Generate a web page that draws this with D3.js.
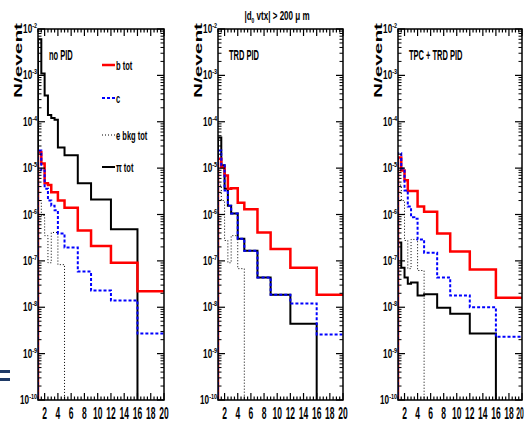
<!DOCTYPE html>
<html>
<head>
<meta charset="utf-8">
<script src="https://cdn.jsdelivr.net/npm/d3@7"></script>
<style>
  body { margin: 0; background: #fff; }
  svg { display: block; }
  text { font-family: "Liberation Sans", Arial, sans-serif; font-weight: bold; fill: #000; }
</style>
</head>
<body>
<div id="chart"></div>
<script>
// bin edges (pt) shared by all histograms
const binEdges = [1, 1.5, 2, 2.5, 3, 3.5, 4, 5, 7, 9, 12, 16, 20];
const xTickLabels = [2, 4, 6, 8, 10, 12, 14, 16, 18, 20];
const decades = [-2, -3, -4, -5, -6, -7, -8, -9, -10];

// no PID
const bTotNoPid  = [2.2e-5, 1.26e-5, 4.7e-6, 4.3e-6, 3.0e-6, 3.0e-6, 2.0e-6, 1.4e-6, 4.5e-7, 2.1e-7, 9.1e-8, 2.2e-8];
const cNoPid     = [2.4e-5, 8.9e-6, 3.6e-6, 2.0e-6, 1.55e-6, 1.23e-6, 3.9e-7, 1.95e-7, 5.9e-8, 2.3e-8, 1.4e-8, 2.7e-9];
const eBkgNoPid  = [2.0e-6, 9.5e-7, 3.5e-7, 9.1e-8, 4.1e-7, 4.1e-7, 8.3e-8, 0, 0, 0, 0, 0];
const piNoPid    = [6.0e-3, 1.1e-3, 3.7e-4, 1.4e-4, 1.2e-4, 1.1e-4, 2.8e-5, 1.9e-5, 4.7e-6, 2.1e-6, 4.8e-7, 0];

// TRD PID
const bTotTrd  = [1.6e-5, 1.05e-5, 6.9e-6, 3.6e-6, 3.7e-6, 3.7e-6, 1.8e-6, 1.3e-6, 4.1e-7, 1.8e-7, 7.1e-8, 1.86e-8];
const cTrd     = [2.4e-5, 1.15e-5, 3.3e-6, 1.55e-6, 1.05e-6, 1.05e-6, 3.0e-7, 1.66e-7, 4.4e-8, 1.86e-8, 1.2e-8, 2.6e-9];
const eBkgTrd  = [4.3e-6, 2.0e-6, 2.75e-7, 9.1e-8, 3.5e-7, 3.5e-7, 6.8e-8, 0, 0, 0, 0, 0];
const piTrd    = [4.6e-5, 1.15e-5, 3.6e-6, 1.55e-6, 1.05e-6, 1.05e-6, 3.0e-7, 1.66e-7, 4.4e-8, 1.86e-8, 4.4e-9, 0];

// TPC + TRD PID
const bTotTpcTrd = [1.7e-5, 8.9e-6, 5.5e-6, 3.2e-6, 3.2e-6, 3.2e-6, 1.48e-6, 1.15e-6, 3.9e-7, 1.6e-7, 6.5e-8, 1.6e-8];
const cTpcTrd    = [2.1e-5, 9.8e-6, 3.3e-6, 1.48e-6, 8.7e-7, 8.1e-7, 2.9e-7, 1.5e-7, 4.4e-8, 1.8e-8, 1.0e-8, 2.3e-9];
const eBkgTpcTrd = [4.3e-6, 2.0e-6, 2.75e-7, 6.8e-8, 2.9e-7, 2.9e-7, 6.2e-8, 0, 0, 0, 0, 0];
const piTpcTrd   = [2.5e-7, 7.1e-8, 4.4e-8, 3.2e-8, 3.4e-8, 3.4e-8, 1.8e-8, 1.9e-8, 9.8e-9, 7.2e-9, 2.7e-9, 0];

const panels = [
  { left: 38,  right: 164, label: "no PID",        b: bTotNoPid,  c: cNoPid,  e: eBkgNoPid,  pi: piNoPid },
  { left: 218, right: 343, label: "TRD PID",       b: bTotTrd,    c: cTrd,    e: eBkgTrd,    pi: piTrd },
  { left: 398, right: 522, label: "TPC + TRD PID", b: bTotTpcTrd, c: cTpcTrd, e: eBkgTpcTrd, pi: piTpcTrd }
];

const styles = {
  e:  { stroke: "#000", width: 1,   dash: "1,2" },
  pi: { stroke: "#000", width: 2,   dash: null },
  b:  { stroke: "#ff0000", width: 2.5, dash: null },
  c:  { stroke: "#0000ff", width: 2,   dash: "3,2" }
};

const width = 524, height = 430;
const plotTop = 29, plotBottom = 400;

const svg = d3.select("#chart").append("svg")
  .attr("width", width)
  .attr("height", height);

// squeezed bold text, the plot uses a very condensed font
function label(sel, x, y, size, sx, anchor) {
  return sel.append("text")
    .attr("transform", `translate(${x},${y}) scale(${sx},1)`)
    .attr("text-anchor", anchor || "start")
    .style("font-size", size + "px");
}

const y = d3.scaleLog().domain([1e-10, 1e-2]).range([plotBottom, plotTop]);

// minor y tick values 2..9 x 10^n
const yMinor = [];
for (let p = -10; p < -2; p++) for (let m = 2; m <= 9; m++) yMinor.push(m * Math.pow(10, p));
const xMinor = d3.range(1, 20.01, 0.5);

panels.forEach((p, i) => {
  const x = d3.scaleLinear().domain([1, 20]).range([p.left, p.right]);
  const g = svg.append("g");

  g.append("clipPath").attr("id", "clip" + i)
    .append("rect")
    .attr("x", p.left).attr("y", plotTop)
    .attr("width", p.right - p.left).attr("height", plotBottom - plotTop);

  const line = d3.line()
    .x(d => x(d[0]))
    .y(d => d[1] > 0 ? y(d[1]) : plotBottom + 5)
    .curve(d3.curveStepAfter);

  ["e", "pi", "b", "c"].forEach(key => {
    const vals = p[key];
    const pts = [[binEdges[0], 0]];
    vals.forEach((v, j) => pts.push([binEdges[j], v]));
    pts.push([binEdges[binEdges.length - 1], vals[vals.length - 1]]);
    const s = styles[key];
    g.append("path")
      .attr("clip-path", `url(#clip${i})`)
      .attr("d", line(pts))
      .attr("fill", "none")
      .attr("stroke", s.stroke)
      .attr("stroke-width", s.width)
      .attr("stroke-dasharray", s.dash);
  });

  // frame
  g.append("rect")
    .attr("x", p.left).attr("y", plotTop)
    .attr("width", p.right - p.left).attr("height", plotBottom - plotTop)
    .attr("fill", "none").attr("stroke", "#000").attr("stroke-width", 1.5);

  // x ticks, bottom and top, pointing inward
  xMinor.forEach(v => {
    const major = Math.abs(v % 2) < 1e-9;
    const len = major ? 7 : 3.5;
    g.append("line").attr("x1", x(v)).attr("x2", x(v)).attr("y1", plotBottom).attr("y2", plotBottom - len)
      .attr("stroke", "#000").attr("stroke-width", 1.2);
    g.append("line").attr("x1", x(v)).attr("x2", x(v)).attr("y1", plotTop).attr("y2", plotTop + len)
      .attr("stroke", "#000").attr("stroke-width", 1.2);
  });

  // y ticks, left and right
  decades.forEach(d => {
    const yy = y(Math.pow(10, d));
    g.append("line").attr("x1", p.left).attr("x2", p.left + 7).attr("y1", yy).attr("y2", yy)
      .attr("stroke", "#000").attr("stroke-width", 1.2);
    g.append("line").attr("x1", p.right).attr("x2", p.right - 7).attr("y1", yy).attr("y2", yy)
      .attr("stroke", "#000").attr("stroke-width", 1.2);
  });
  yMinor.forEach(v => {
    const yy = y(v);
    g.append("line").attr("x1", p.left).attr("x2", p.left + 3.5).attr("y1", yy).attr("y2", yy)
      .attr("stroke", "#000").attr("stroke-width", 1);
    g.append("line").attr("x1", p.right).attr("x2", p.right - 3.5).attr("y1", yy).attr("y2", yy)
      .attr("stroke", "#000").attr("stroke-width", 1);
  });

  // x tick labels (one at the page edge gets squeezed to stay inside)
  xTickLabels.forEach(d => {
    const atEdge = x(d) + 5 > width;
    const xx = atEdge ? width - 4 : x(d);
    label(g, xx, 419, 17, atEdge ? 0.4 : 0.5, "middle").text(d);
  });

  // y tick labels 10^n
  decades.forEach(d => {
    const t = label(g, p.left - 1, y(Math.pow(10, d)) + 4, 12, 0.68, "end");
    t.append("tspan").text("10");
    t.append("tspan").attr("dy", -5).style("font-size", "8px").text(d);
  });

  // y title
  g.append("text")
    .attr("transform", `translate(${p.left - 16.5},23) rotate(-90)`)
    .attr("text-anchor", "end")
    .attr("textLength", 75)
    .attr("lengthAdjust", "spacingAndGlyphs")
    .style("font-size", "11px")
    .text("N/event");

  // panel label
  label(g, p.left + 11, 60, 15, 0.5).text(p.label);
});

// legend in first panel
const legendItems = [
  { key: "b",  label: "b tot",     y: 65 },
  { key: "c",  label: "c",         y: 98 },
  { key: "e",  label: "e bkg tot", y: 135 },
  { key: "pi", label: "\u03c0 tot", y: 167 }
];
const legend = svg.append("g");
legendItems.forEach(d => {
  const s = styles[d.key];
  legend.append("line")
    .attr("x1", 102).attr("x2", 115).attr("y1", d.y).attr("y2", d.y)
    .attr("stroke", s.stroke).attr("stroke-width", s.width)
    .attr("stroke-dasharray", s.dash);
  label(legend, 116, d.y + 5, 13, 0.58).text(d.label);
});

// title above middle panel
const title = label(svg, 277, 20, 13, 0.62, "middle");
title.append("tspan").text("|d");
title.append("tspan").attr("dy", 3).style("font-size", "8px").text("0");
title.append("tspan").attr("dy", -3).text(" vtx| > 200 \u03bc m");

// slide decoration at left edge
svg.append("rect").attr("x", 0).attr("y", 370).attr("width", 10).attr("height", 3).attr("fill", "#1f3a66");
svg.append("rect").attr("x", 0).attr("y", 378).attr("width", 10).attr("height", 3).attr("fill", "#1f3a66");
</script>
</body>
</html>
